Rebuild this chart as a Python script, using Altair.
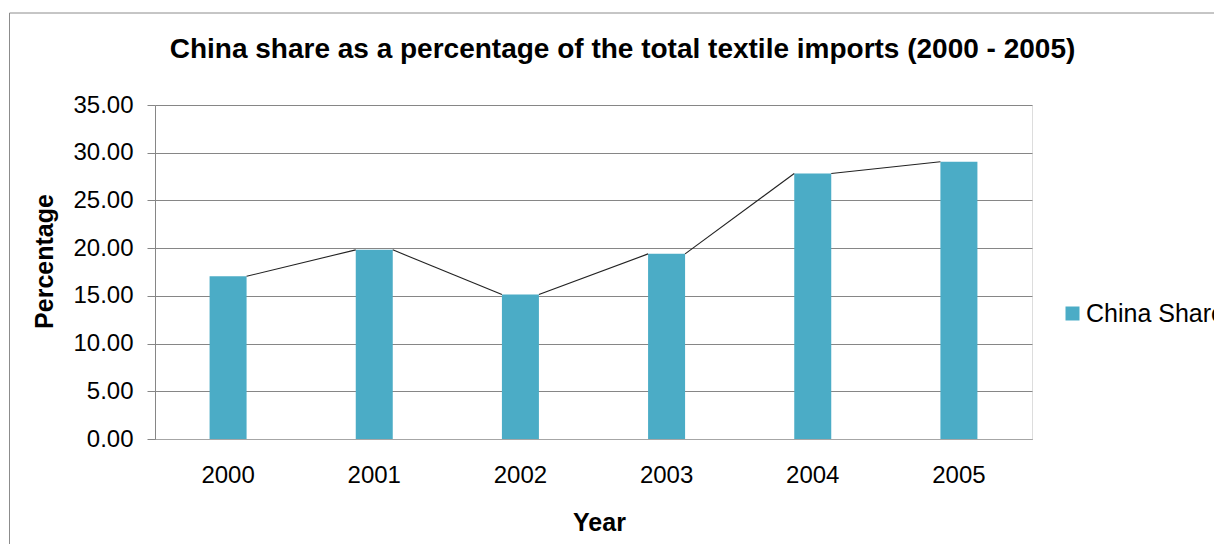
import altair as alt
import pandas as pd

years = ["2000", "2001", "2002", "2003", "2004", "2005"]
china_share = [17.05, 19.82, 15.14, 19.40, 27.82, 29.05]
series_name = "China Share"
y_ticks = [0, 5, 10, 15, 20, 25, 30, 35]

bars_df = pd.DataFrame({"Year": years, "Percentage": china_share, "Series": [series_name] * len(years)})
seg_df = pd.DataFrame({
    "Year": years[:-1],
    "NextYear": years[1:],
    "Percentage": china_share[:-1],
    "NextPercentage": china_share[1:],
})

FONT = "Liberation Sans"
BAR_COLOR = "#4BACC6"
GRID = "#868686"

x_scale = alt.Scale(domain=years, paddingInner=0, paddingOuter=0)
y_scale = alt.Scale(domain=[0, 35], nice=False)

bars = alt.Chart(bars_df).mark_bar(size=37).encode(
    x=alt.X("Year:N", scale=x_scale, sort=years,
            axis=alt.Axis(labelAngle=0, ticks=False, labelFontSize=24, labelPadding=24,
                          labelColor="black", labelFont=FONT, domainColor="#a6a6a6",
                          title="Year", titleFontSize=25, titleFont=FONT, titleFontWeight="bold",
                          titleColor="black", titleX=444, titleY=91, titleBaseline="alphabetic",
                          titleAlign="center")),
    y=alt.Y("Percentage:Q", scale=y_scale,
            axis=alt.Axis(values=y_ticks, format=".2f", labelFontSize=24, labelFont=FONT,
                          labelColor="black", labelPadding=14, tickSize=8, tickColor=GRID,
                          domainColor=GRID, gridColor=GRID, grid=True,
                          title="Percentage", titleFontSize=25, titleFont=FONT,
                          titleFontWeight="bold", titleColor="black", titleAngle=270,
                          titleX=-103, titleY=156, titleBaseline="alphabetic",
                          titleAlign="center")),
    color=alt.Color("Series:N", scale=alt.Scale(domain=[series_name], range=[BAR_COLOR]),
                    legend=alt.Legend(title=None, orient="none", legendX=905, legendY=196,
                                      symbolType="square", symbolSize=196, symbolStrokeWidth=0,
                                      labelFontSize=25, labelFont=FONT, labelColor="black",
                                      labelOffset=1, padding=0)),
)

line = alt.Chart(seg_df).mark_rule(color="#222222", strokeWidth=1.1, xOffset=18.5, x2Offset=-18.5).encode(
    x=alt.X("Year:N", scale=x_scale, sort=years),
    x2="NextYear:N",
    y=alt.Y("Percentage:Q", scale=y_scale),
    y2="NextPercentage:Q",
)

frame = alt.Chart(pd.DataFrame({"k": [0]})).mark_rect(fill=None, stroke="#8c8c8c", strokeWidth=1).encode(
    x=alt.value(-145.5), x2=alt.value(1200), y=alt.value(-92), y2=alt.value(600)
)

chart = alt.layer(frame, bars, line).properties(
    width=877,
    height=334,
    title=alt.TitleParams(
        "China share as a percentage of the total textile imports (2000 - 2005)",
        fontSize=28, font=FONT, fontWeight="bold", color="black", anchor="middle",
        dx=29, offset=-73, baseline="alphabetic",
    ),
    autosize=alt.AutoSizeParams(type="none"),
    padding={"left": 147, "top": 97, "right": 182, "bottom": 105},
).configure_view(stroke=None).configure(background="white")

chart.save("out.html", embed_options={"renderer": "svg", "actions": False})
